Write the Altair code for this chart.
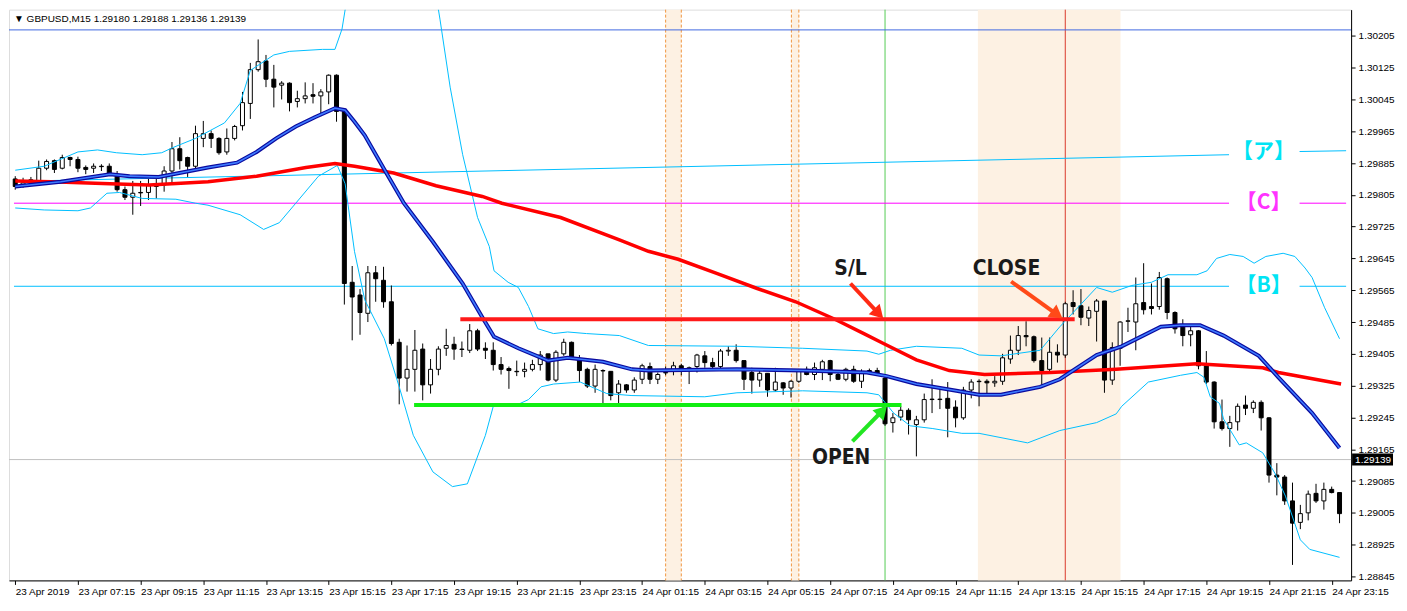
import altair as alt
import pandas as pd

# ---------------- data ----------------
opens = [
 1.29845,1.29828,1.29840,1.29840,1.29872,1.29891,1.29872,1.29899,1.29894,1.29874,
 1.29872,1.29877,1.29877,1.29852,1.29818,1.29799,1.29811,1.29811,1.29826,1.29830,
 1.29865,1.29921,1.29899,1.29877,1.29947,1.29959,1.29947,1.29913,1.29947,1.29979,
 1.30035,1.30120,1.30142,1.30096,1.30081,1.30086,1.30040,1.30047,1.30057,1.30054,
 1.30064,1.30106,1.30015,1.29585,1.29553,1.29507,1.29609,1.29590,1.29536,1.29434,
 1.29344,1.29366,1.29417,1.29327,1.29366,1.29419,1.29429,1.29417,1.29414,1.29463,
 1.29419,1.29414,1.29378,1.29368,1.29361,1.29361,1.29366,1.29378,1.29405,1.29339,
 1.29405,1.29434,1.29392,1.29366,1.29324,1.29363,1.29361,1.29307,1.29327,1.29314,
 1.29341,1.29373,1.29341,1.29358,1.29363,1.29375,1.29366,1.29373,1.29400,1.29383,
 1.29373,1.29412,1.29414,1.29388,1.29358,1.29339,1.29356,1.29314,1.29332,1.29319,
 1.29336,1.29366,1.29353,1.29366,1.29388,1.29353,1.29341,1.29366,1.29336,1.29363,
 1.29363,1.29344,1.29232,1.29246,1.29263,1.29227,1.29239,1.29290,1.29290,1.29293,
 1.29271,1.29244,1.29314,1.29336,1.29336,1.29332,1.29336,1.29392,1.29414,1.29451,
 1.29448,1.29388,1.29366,1.29409,1.29402,1.29534,1.29526,1.29495,1.29512,1.29538,
 1.29339,1.29419,1.29487,1.29485,1.29534,1.29524,1.29524,1.29594,1.29509,1.29477,
 1.29453,1.29463,1.29375,1.29334,1.29234,1.29217,1.29234,1.29276,1.29268,1.29283,
 1.29244,1.29100,1.29095,1.29035,1.28981,1.29005,1.29054,1.29035,1.29064,1.29056]
highs = [
 1.29852,1.29848,1.29850,1.29891,1.29894,1.29894,1.29906,1.29901,1.29901,1.29879,
 1.29884,1.29882,1.29884,1.29865,1.29826,1.29840,1.29840,1.29845,1.29845,1.29877,
 1.29938,1.29950,1.29901,1.29979,1.29991,1.29967,1.29950,1.29972,1.29981,1.30064,
 1.30137,1.30196,1.30157,1.30132,1.30091,1.30088,1.30067,1.30088,1.30086,1.30071,
 1.30108,1.30108,1.30020,1.29626,1.29568,1.29626,1.29626,1.29624,1.29577,1.29443,
 1.29426,1.29465,1.29431,1.29392,1.29424,1.29468,1.29448,1.29436,1.29480,1.29468,
 1.29434,1.29434,1.29397,1.29373,1.29388,1.29383,1.29390,1.29412,1.29405,1.29414,
 1.29443,1.29436,1.29402,1.29370,1.29378,1.29366,1.29361,1.29339,1.29329,1.29346,
 1.29380,1.29383,1.29358,1.29373,1.29385,1.29380,1.29373,1.29405,1.29412,1.29395,
 1.29417,1.29424,1.29429,1.29388,1.29370,1.29363,1.29356,1.29370,1.29334,1.29339,
 1.29366,1.29373,1.29383,1.29390,1.29390,1.29358,1.29370,1.29375,1.29366,1.29368,
 1.29370,1.29351,1.29256,1.29273,1.29268,1.29249,1.29305,1.29341,1.29322,1.29334,
 1.29288,1.29322,1.29341,1.29341,1.29341,1.29349,1.29405,1.29451,1.29475,1.29487,
 1.29451,1.29446,1.29446,1.29429,1.29536,1.29565,1.29568,1.29524,1.29543,1.29538,
 1.29434,1.29487,1.29521,1.29597,1.29633,1.29582,1.29611,1.29597,1.29512,1.29492,
 1.29475,1.29465,1.29412,1.29336,1.29290,1.29249,1.29280,1.29300,1.29288,1.29288,
 1.29246,1.29130,1.29100,1.29081,1.29025,1.29061,1.29078,1.29081,1.29071,1.29056]
lows = [
 1.29818,1.29823,1.29833,1.29838,1.29867,1.29860,1.29869,1.29877,1.29862,1.29857,
 1.29860,1.29865,1.29855,1.29813,1.29792,1.29755,1.29777,1.29792,1.29796,1.29813,
 1.29833,1.29869,1.29850,1.29869,1.29925,1.29923,1.29906,1.29906,1.29942,1.29967,
 1.29996,1.30115,1.30076,1.30025,1.30045,1.30015,1.30025,1.30035,1.30035,1.30003,
 1.30033,1.29989,1.29529,1.29439,1.29453,1.29485,1.29536,1.29521,1.29426,1.29278,
 1.29310,1.29310,1.29288,1.29305,1.29351,1.29400,1.29390,1.29397,1.29407,1.29412,
 1.29392,1.29363,1.29353,1.29317,1.29349,1.29346,1.29361,1.29363,1.29336,1.29334,
 1.29400,1.29390,1.29334,1.29319,1.29307,1.29278,1.29288,1.29278,1.29307,1.29307,
 1.29329,1.29329,1.29329,1.29351,1.29351,1.29351,1.29329,1.29358,1.29370,1.29363,
 1.29363,1.29400,1.29383,1.29314,1.29305,1.29322,1.29297,1.29310,1.29302,1.29295,
 1.29332,1.29351,1.29339,1.29339,1.29336,1.29339,1.29336,1.29332,1.29319,1.29353,
 1.29351,1.29224,1.29207,1.29237,1.29202,1.29147,1.29232,1.29256,1.29266,1.29195,
 1.29220,1.29239,1.29293,1.29273,1.29305,1.29322,1.29327,1.29380,1.29402,1.29424,
 1.29383,1.29327,1.29358,1.29383,1.29395,1.29504,1.29477,1.29475,1.29436,1.29307,
 1.29327,1.29375,1.29460,1.29414,1.29504,1.29504,1.29516,1.29492,1.29456,1.29424,
 1.29424,1.29366,1.29329,1.29217,1.29212,1.29171,1.29212,1.29251,1.29256,1.29212,
 1.29081,1.29049,1.29025,1.28874,1.28964,1.28986,1.29030,1.29013,1.29054,1.28979]
closes = [
 1.29826,1.29835,1.29843,1.29872,1.29889,1.29869,1.29899,1.29894,1.29872,1.29869,
 1.29877,1.29876,1.29860,1.29818,1.29799,1.29809,1.29810,1.29828,1.29830,1.29865,
 1.29921,1.29891,1.29877,1.29959,1.29959,1.29947,1.29911,1.29947,1.29977,1.30037,
 1.30120,1.30140,1.30096,1.30076,1.30086,1.30037,1.30047,1.30054,1.30053,1.30064,
 1.30106,1.30015,1.29582,1.29548,1.29509,1.29609,1.29594,1.29536,1.29431,1.29344,
 1.29366,1.29414,1.29327,1.29366,1.29417,1.29426,1.29417,1.29416,1.29463,1.29417,
 1.29414,1.29378,1.29366,1.29363,1.29360,1.29366,1.29378,1.29402,1.29339,1.29409,
 1.29434,1.29395,1.29363,1.29324,1.29366,1.29362,1.29300,1.29329,1.29314,1.29339,
 1.29375,1.29341,1.29353,1.29357,1.29375,1.29363,1.29370,1.29402,1.29383,1.29373,
 1.29412,1.29414,1.29388,1.29341,1.29339,1.29356,1.29314,1.29334,1.29319,1.29336,
 1.29363,1.29353,1.29370,1.29385,1.29353,1.29341,1.29366,1.29336,1.29358,1.29358,
 1.29356,1.29229,1.29244,1.29263,1.29239,1.29239,1.29290,1.29291,1.29291,1.29268,
 1.29244,1.29314,1.29334,1.29335,1.29332,1.29336,1.29395,1.29414,1.29451,1.29448,
 1.29388,1.29363,1.29409,1.29402,1.29531,1.29524,1.29497,1.29514,1.29538,1.29339,
 1.29421,1.29485,1.29488,1.29531,1.29516,1.29519,1.29597,1.29509,1.29468,1.29451,
 1.29463,1.29375,1.29334,1.29234,1.29217,1.29232,1.29273,1.29268,1.29283,1.29244,
 1.29100,1.29095,1.29035,1.28979,1.29003,1.29052,1.29035,1.29064,1.29056,1.29003]

# moving averages / bollinger bands (bar index, price)
ma_fast_bar = [0,5.8,12.1,14.6,18.3,24.6,28.3,30.8,33.3,35.8,38.3,40.8,42.1,43.3,44.6,47.1,49.6,53.3,57.1,59.6,
               61.1,64.2,68,70.5,75,78.7,80.8,92.1,100.5,108.7,111.2,115,120.1,123,125.8,130.8,133.3,138,141.2,146.2,
               148.7,151.2,154.2,158.7,161.2,165.5,169]
ma_fast = [1.29826,1.29838,1.29857,1.29852,1.29850,1.29874,1.29886,1.29913,1.29947,1.29977,1.30001,1.30023,1.30018,
           1.29989,1.29955,1.29869,1.29784,1.29687,1.29582,1.29497,1.29448,1.29419,1.29388,1.29395,1.29385,1.29366,
           1.29363,1.29366,1.29363,1.29358,1.29349,1.29329,1.29312,1.29302,1.29302,1.29322,1.29341,1.29402,1.29424,
           1.29473,1.29477,1.29477,1.29451,1.29400,1.29346,1.29256,1.29168]
ma_slow_bar = [0,4.6,12.1,17.1,24.6,30.8,37.1,40.8,43.3,48.3,53.7,59.6,62.1,69.6,77.1,80.8,84.6,89.6,94.6,99.6,
               104.6,108.3,110.8,115,119.2,123.7,132.1,140.5,150.8,155,159.2,161.2,169.2]
ma_slow = [1.29840,1.29838,1.29833,1.29830,1.29838,1.29852,1.29874,1.29884,1.29877,1.29860,1.29828,1.29801,1.29784,
           1.29748,1.29692,1.29663,1.29643,1.29607,1.29570,1.29536,1.29492,1.29456,1.29431,1.29390,1.29363,1.29353,
           1.29358,1.29366,1.29380,1.29375,1.29370,1.29358,1.29329]
bb_up_bar = [0,3.7,8,10.5,12.9,16.2,18.7,20,23,26.7,28.7,30,33,35,39.2,40.8,41.7,42.7,45,50,
             53.6,54.2,55.5,57.1,59,60.5,61.1,62.9,64.2,65.5,66.7,68.7,70.5,72.9,77.1,80.8,92.1,100.5,108.7,110.2,
             111.7,115,120.8,123,125.8,130.8,133.3,138,140,142.5,145,147.1,150.8,152.1,153.3,155,156.7,158.1,159.6,161.8,
             163.3,164.6,165.5,167.1,169]
bb_up = [1.29867,1.29877,1.29913,1.29918,1.29911,1.29906,1.29911,1.29923,1.29947,1.29986,1.30035,1.30118,1.30157,
         1.30166,1.30171,1.30171,1.30222,1.30344,1.30500,1.30560,1.30320,1.30247,1.30076,1.29906,1.29748,1.29675,
         1.29614,1.29585,1.29572,1.29524,1.29468,1.29456,1.29460,1.29456,1.29451,1.29426,1.29424,1.29419,1.29412,
         1.29404,1.29414,1.29424,1.29419,1.29402,1.29400,1.29414,1.29473,1.29572,1.29560,1.29577,1.29585,1.29604,
         1.29604,1.29614,1.29645,1.29655,1.29650,1.29633,1.29650,1.29658,1.29650,1.29621,1.29597,1.29521,1.29443]
bb_lo_bar = [0,3.7,8,9.6,11.7,13.3,16.2,20.5,23,24.6,28.7,31.7,33.7,35.8,38.7,41.1,42.1,43.3,44.6,47.1,
             49,50.8,53.3,55.8,57.7,60,61.1,62.1,64.2,65.5,67.1,68.7,72.1,75.5,78.7,88,92.1,100.5,108.7,110.2,
             112.1,114.2,117.1,120.8,123,129.2,133.3,138,140.5,141.2,144.6,148.7,150.8,151.7,152.5,153.7,154.2,156.2,
             157.1,159.2,160.8,162.1,164,165.2,169]
bb_lo = [1.29772,1.29767,1.29765,1.29772,1.29809,1.29811,1.29796,1.29794,1.29784,1.29779,1.29755,1.29718,1.29735,
         1.29784,1.29852,1.29879,1.29833,1.29662,1.29541,1.29443,1.29322,1.29200,1.29108,1.29071,1.29078,1.29200,
         1.29280,1.29280,1.29278,1.29290,1.29322,1.29329,1.29334,1.29305,1.29300,1.29297,1.29307,1.29312,1.29307,
         1.29302,1.29256,1.29224,1.29217,1.29205,1.29205,1.29181,1.29212,1.29232,1.29254,1.29273,1.29334,1.29351,
         1.29358,1.29346,1.29297,1.29280,1.29241,1.29176,1.29181,1.29156,1.29103,1.29047,1.28937,1.28913,1.28893]

# axis ticks
price_ticks = [1.28845,1.28925,1.29005,1.29085,1.29165,1.29245,1.29325,1.29405,1.29485,
               1.29565,1.29645,1.29725,1.29805,1.29885,1.29965,1.30045,1.30125,1.30205]
time_tick_bars = [0,8,16,24,32,40,48,56,64,72,80,88,96,104,112,120,128,136,144,152,160,168]
time_labels = ["23 Apr 2019","23 Apr 07:15","23 Apr 09:15","23 Apr 11:15","23 Apr 13:15","23 Apr 15:15",
               "23 Apr 17:15","23 Apr 19:15","23 Apr 21:15","23 Apr 23:15","24 Apr 01:15","24 Apr 03:15",
               "24 Apr 05:15","24 Apr 07:15","24 Apr 09:15","24 Apr 11:15","24 Apr 13:15","24 Apr 15:15",
               "24 Apr 17:15","24 Apr 19:15","24 Apr 21:15","24 Apr 23:15"]

# levels and objects
top_level = 1.30220
current_price = 1.29139
level_a_bar = [-0.16, 154.9, 163.9, 169.84]
level_a = [1.29839, 1.29906, 1.29914, 1.29916]
level_c = 1.29784
level_b = 1.29575
label_bar = 159.3
label_a_price = 1.29913
sl_bar = [56.8, 135.2]
sl_price = 1.29492
open_bar = [50.9, 113.1]
open_price = 1.29276
shade_from = [83, 99.05, 122.85]
shade_to = [85, 100, 141.05]
dash_bars = [83, 85, 99.05, 100]
vline_green = 111
vline_red = 134
# arrows: tail (bar, price) and head (bar, price)
arrow_sl = [106.59, 1.29582, 110.0, 1.29510]
arrow_close = [127.09, 1.29587, 132.75, 1.29507]
arrow_open = [106.84, 1.29185, 110.48, 1.29258]
notes = [("S/L", 106.6, 1.29619), ("CLOSE", 126.5, 1.29619), ("OPEN", 105.4, 1.29144)]
header = "\u25BC GBPUSD,M15  1.29180 1.29188 1.29136 1.29139"

# ---------------- chart ----------------
W, H = 1345, 572
FONT = "Liberation Sans"
NARROW = "Liberation Sans Narrow, DejaVu Sans Condensed, sans-serif"

XS = alt.Scale(domain=[-0.16, 169.84], nice=False, zero=False)
YS = alt.Scale(domain=[1.28835, 1.30271], nice=False, zero=False)
label_js = "[" + ",".join("'" + s + "'" for s in time_labels) + "]"
XA = alt.Axis(values=time_tick_bars, labelExpr=label_js + "[round(datum.value/8)]", title=None, grid=False,
              labelAlign="left", labelBaseline="top", labelPadding=2, tickSize=4, labelFlush=False,
              labelOverlap=False, labelFont=FONT, labelFontSize=10, labelColor="black",
              tickColor="black", domainColor="black")
YA = alt.Axis(orient="right", values=price_ticks, format=".5f", title=None, grid=False, tickSize=4,
              labelPadding=3, labelFont=FONT, labelFontSize=10, labelColor="black",
              tickColor="black", domainColor="black", labelOverlap=False, labelFlush=False)


def X(f):
    return alt.X(f + ":Q", scale=XS, axis=XA)


def Y(f):
    return alt.Y(f + ":Q", scale=YS, axis=YA)


candles = pd.DataFrame({"bar": list(range(len(opens))), "open": opens, "high": highs,
                        "low": lows, "close": closes})

layers = []
# shaded sessions
shade_df = pd.DataFrame({"x0": shade_from, "x1": shade_to})
layers.append(alt.Chart(shade_df).mark_rect(color="#FDF1E3").encode(
    x=X("x0"), x2="x1", y=alt.value(0), y2=alt.value(H)))
layers.append(alt.Chart(pd.DataFrame({"bar": dash_bars})).mark_rule(
    color="#F0963F", strokeDash=[3, 2], strokeWidth=1).encode(x=X("bar"), y=alt.value(0), y2=alt.value(H)))
layers.append(alt.Chart(pd.DataFrame({"bar": [vline_green]})).mark_rule(
    color="#55CC55", strokeWidth=1).encode(x=X("bar"), y=alt.value(0), y2=alt.value(H)))
layers.append(alt.Chart(pd.DataFrame({"bar": [vline_red]})).mark_rule(
    color="#D93A2B", strokeWidth=1).encode(x=X("bar"), y=alt.value(0), y2=alt.value(H)))
# horizontal full-width lines
layers.append(alt.Chart(pd.DataFrame({"price": [top_level]})).mark_rule(
    color="#4169E1", strokeWidth=1).encode(y=Y("price"), x=alt.value(0), x2=alt.value(W)))
layers.append(alt.Chart(pd.DataFrame({"price": [current_price]})).mark_rule(
    color="#C0C0C0", strokeWidth=1).encode(y=Y("price"), x=alt.value(0), x2=alt.value(W)))
# labelled level lines (broken where the label sits)
seg = [0, 0, 1, 1]
a_df = pd.DataFrame({"bar": level_a_bar, "price": level_a, "seg": seg})
c_df = pd.DataFrame({"bar": level_a_bar, "price": [level_c] * 4, "seg": seg})
b_df = pd.DataFrame({"bar": level_a_bar, "price": [level_b] * 4, "seg": seg})
for d, col in [(a_df, "#00BFFF"), (c_df, "#FF00FF"), (b_df, "#00BFFF")]:
    layers.append(alt.Chart(d).mark_line(color=col, strokeWidth=1).encode(
        x=X("bar"), y=Y("price"), detail="seg:N"))

# candles
layers.append(alt.Chart(candles).mark_rule(color="black", strokeWidth=1).encode(
    x=X("bar"), y=Y("low"), y2="high"))
layers.append(alt.Chart(candles).mark_bar(size=4, stroke="black", strokeWidth=1).encode(
    x=X("bar"), y=Y("open"), y2="close",
    fill=alt.condition("datum.close >= datum.open", alt.value("white"), alt.value("black"))))

# bands and averages
up_df = pd.DataFrame({"bar": bb_up_bar, "price": bb_up})
lo_df = pd.DataFrame({"bar": bb_lo_bar, "price": bb_lo})
for d in (up_df, lo_df):
    layers.append(alt.Chart(d).mark_line(color="#00BFFF", strokeWidth=1, clip=True).encode(
        x=X("bar"), y=Y("price")))
slow_df = pd.DataFrame({"bar": ma_slow_bar, "price": ma_slow})
layers.append(alt.Chart(slow_df).mark_line(color="#FF0000", strokeWidth=3.5, clip=True).encode(
    x=X("bar"), y=Y("price")))
fast_df = pd.DataFrame({"bar": ma_fast_bar, "price": ma_fast})
layers.append(alt.Chart(fast_df).mark_line(color="#0A0A9E", strokeWidth=4, clip=True).encode(
    x=X("bar"), y=Y("price")))
layers.append(alt.Chart(fast_df).mark_line(color="#3D7BFF", strokeWidth=1.6, clip=True).encode(
    x=X("bar"), y=Y("price")))

# trade lines
layers.append(alt.Chart(pd.DataFrame({"x0": [sl_bar[0]], "x1": [sl_bar[1]], "price": [sl_price]})).mark_rule(
    color="#FF1A1A", strokeWidth=4).encode(x=X("x0"), x2="x1", y=Y("price")))
layers.append(alt.Chart(pd.DataFrame({"x0": [open_bar[0]], "x1": [open_bar[1]], "price": [open_price]})).mark_rule(
    color="#11EE11", strokeWidth=4).encode(x=X("x0"), x2="x1", y=Y("price")))

# arrows
for arr, col, ang in [(arrow_sl, "#FF2A14", 136), (arrow_close, "#FF4A18", 126), (arrow_open, "#22E622", 43)]:
    adf = pd.DataFrame({"tx": [arr[0]], "ty": [arr[1]], "hx": [arr[2]], "hy": [arr[3]]})
    layers.append(alt.Chart(adf).mark_rule(color=col, strokeWidth=4).encode(
        x=X("tx"), y=Y("ty"), x2="hx", y2="hy"))
    layers.append(alt.Chart(adf).mark_point(shape="triangle", filled=True, size=230, color=col,
                                            opacity=1, angle=ang).encode(x=X("hx"), y=Y("hy")))

# text annotations
notes_df = pd.DataFrame(notes, columns=["text", "bar", "price"])
layers.append(alt.Chart(notes_df).mark_text(font=NARROW, fontSize=21, fontWeight="bold", color="#1A1A1A",
                                            align="center", baseline="middle").encode(
    x=X("bar"), y=Y("price"), text="text:N"))
lab_df = pd.DataFrame({"text": ["【ア】", "【C】", "【B】"], "bar": [label_bar] * 3,
                       "price": [label_a_price, level_c, level_b], "col": ["a", "c", "b"]})
layers.append(alt.Chart(lab_df).mark_text(font="Noto Sans CJK JP", fontSize=21, fontWeight="bold",
                                          align="center", baseline="middle").encode(
    x=X("bar"), y=Y("price"), text="text:N",
    color=alt.Color("col:N", scale=alt.Scale(domain=["a", "c", "b"],
                                              range=["#00E4F4", "#FF33FF", "#00E4F4"]), legend=None)))

# header text
layers.append(alt.Chart(pd.DataFrame({"t": [header]})).mark_text(
    font=FONT, fontSize=10, align="left", baseline="middle", color="black").encode(
    x=alt.value(5), y=alt.value(9), text="t:N"))

# current price box on the axis
cp_df = pd.DataFrame({"price": [current_price], "t": ["%.5f" % current_price]})
layers.append(alt.Chart(cp_df).mark_rule(color="black", strokeWidth=12).encode(
    y=Y("price"), x=alt.value(W + 1), x2=alt.value(W + 42)))
layers.append(alt.Chart(cp_df).mark_text(font=FONT, fontSize=10, color="white", align="left",
                                         baseline="middle").encode(
    y=Y("price"), x=alt.value(W + 4), text="t:N"))

chart = alt.layer(*layers).properties(
    width=W, height=H, padding={"left": 0, "top": 0, "right": 0, "bottom": 0}
).configure_view(stroke="black", strokeWidth=1).configure(background="white")

chart.save("out.html", embed_options={"renderer": "svg", "actions": False})
